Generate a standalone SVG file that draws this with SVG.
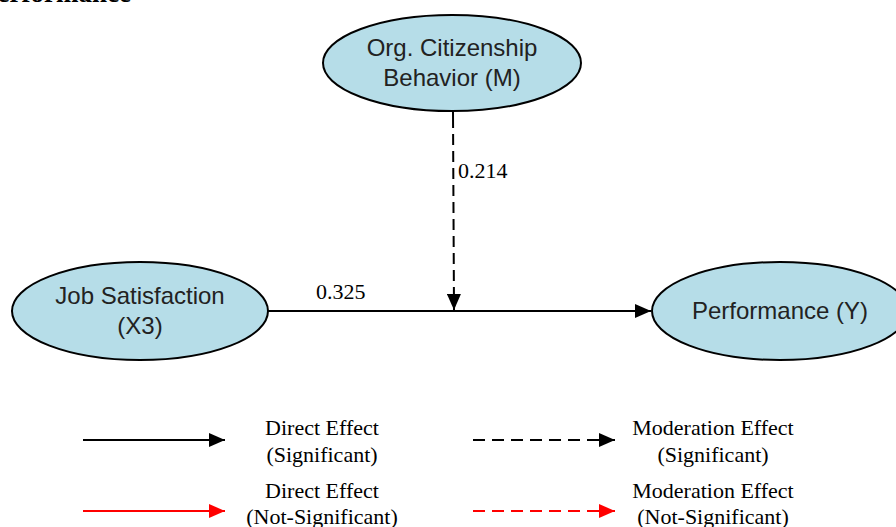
<svg xmlns="http://www.w3.org/2000/svg" width="896" height="527" viewBox="0 0 896 527">
<style>
.node ellipse{fill:#b6dde8;stroke:#000;stroke-width:2}
.nt{font-family:"Liberation Sans",Arial,sans-serif;font-size:24px;fill:#222;text-anchor:middle}
.st{font-family:"Liberation Serif","Times New Roman",serif;font-size:22px;fill:#000}
.lt{font-family:"Liberation Serif","Times New Roman",serif;font-size:22px;fill:#000;text-anchor:middle}
.conn line{stroke-width:2;fill:none}
</style>
<defs>
<marker id="ab" markerUnits="userSpaceOnUse" markerWidth="16" markerHeight="14" refX="16" refY="7" orient="auto"><path d="M0,0 L16,7 L0,14 z" fill="#000"/></marker>
<marker id="ar" markerUnits="userSpaceOnUse" markerWidth="16" markerHeight="14" refX="16" refY="7" orient="auto"><path d="M0,0 L16,7 L0,14 z" fill="#ff0000"/></marker>
</defs>
<rect width="896" height="527" fill="#fff"/>
<text x="131" y="2" style="font-family:'Liberation Serif','Times New Roman',serif;font-size:27px;font-weight:bold;text-anchor:end">Performance</text>

<g id="conn" class="conn">
<line x1="268" y1="311" x2="651" y2="311" stroke="#000" marker-end="url(#ab)"/>
<line x1="453" y1="112" x2="454" y2="310" stroke="#000" stroke-dasharray="16 6 11 6 11 6 11 6 11 6 11 6 11 6 11 6 11 6 11 6 11 6" marker-end="url(#ab)"/>
</g>

<g id="node-ocb" class="node">
<ellipse cx="452" cy="63" rx="129" ry="48"/>
<text class="nt" x="452" y="56">Org. Citizenship</text>
<text class="nt" x="452" y="86">Behavior (M)</text>
</g>
<g id="node-js" class="node">
<ellipse cx="140" cy="311" rx="128" ry="49"/>
<text class="nt" x="140" y="304">Job Satisfaction</text>
<text class="nt" x="140" y="334">(X3)</text>
</g>
<g id="node-perf" class="node">
<ellipse cx="780" cy="311" rx="128" ry="49"/>
<text class="nt" x="780" y="319">Performance (Y)</text>
</g>

<text class="st" x="458" y="178">0.214</text>
<text class="st" x="316" y="299">0.325</text>

<g id="legend">
<g class="conn">
<line x1="83" y1="440" x2="225" y2="440" stroke="#000" marker-end="url(#ab)"/>
<line x1="83" y1="511" x2="225" y2="511" stroke="#ff0000" marker-end="url(#ar)"/>
<line x1="473" y1="440" x2="615" y2="440" stroke="#000" stroke-dasharray="12 7" marker-end="url(#ab)"/>
<line x1="473" y1="511" x2="615" y2="511" stroke="#ff0000" stroke-dasharray="12 7" marker-end="url(#ar)"/>
</g>
<text class="lt" x="322" y="435">Direct Effect</text>
<text class="lt" x="322" y="462">(Significant)</text>
<text class="lt" x="322" y="498">Direct Effect</text>
<text class="lt" x="322" y="524">(Not-Significant)</text>
<text class="lt" x="713" y="435">Moderation Effect</text>
<text class="lt" x="713" y="462">(Significant)</text>
<text class="lt" x="713" y="498">Moderation Effect</text>
<text class="lt" x="713" y="524">(Not-Significant)</text>
</g>
</svg>
